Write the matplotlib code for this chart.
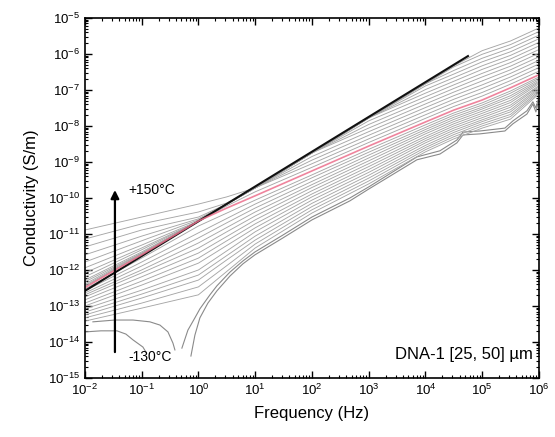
import numpy as np
import matplotlib.pyplot as plt
from matplotlib.ticker import LogLocator, NullFormatter

plt.rcParams['font.family'] = ['Liberation Sans', 'DejaVu Sans']
plt.rcParams['mathtext.fontset'] = 'custom'
plt.rcParams['mathtext.rm'] = 'Liberation Sans'
plt.rcParams['axes.unicode_minus'] = False

# ==========================================
# Data (log10 values)
# ==========================================
log_f = [-2, -1, 0, 0.5, 1, 2, 3, 4, 4.5, 5, 5.5, 6]

# +30 .. +150 C
upper_temps = [30, 40, 50, 60, 70, 80, 90, 100, 110, 120, 130, 140, 150]
upper_log_sigma = [
    [-12.46, -11.57, -10.65, -10.22, -9.83, -9.15, -8.46, -7.79, -7.46, -7.17, -6.84, -6.48],
    [-12.43, -11.56, -10.65, -10.17, -9.72, -9.05, -8.36, -7.69, -7.36, -7.07, -6.74, -6.38],
    [-12.39, -11.54, -10.65, -10.17, -9.72, -8.95, -8.26, -7.59, -7.26, -6.96, -6.64, -6.28],
    [-12.33, -11.53, -10.65, -10.17, -9.72, -8.85, -8.16, -7.49, -7.16, -6.86, -6.54, -6.18],
    [-12.28, -11.50, -10.65, -10.17, -9.72, -8.75, -8.06, -7.39, -7.06, -6.75, -6.44, -6.08],
    [-12.19, -11.44, -10.65, -10.17, -9.72, -8.75, -7.96, -7.29, -6.96, -6.64, -6.34, -5.98],
    [-12.08, -11.39, -10.65, -10.17, -9.72, -8.75, -7.86, -7.19, -6.86, -6.54, -6.24, -5.88],
    [-11.94, -11.31, -10.64, -10.17, -9.72, -8.75, -7.78, -7.09, -6.76, -6.43, -6.14, -5.78],
    [-11.78, -11.19, -10.61, -10.17, -9.72, -8.75, -7.78, -6.99, -6.66, -6.33, -6.04, -5.68],
    [-11.58, -11.06, -10.58, -10.17, -9.72, -8.75, -7.78, -6.89, -6.56, -6.22, -5.94, -5.58],
    [-11.36, -10.89, -10.53, -10.17, -9.72, -8.75, -7.78, -6.83, -6.46, -6.12, -5.84, -5.48],
    [-11.14, -10.72, -10.39, -10.14, -9.72, -8.75, -7.78, -6.83, -6.36, -6.01, -5.74, -5.38],
    [-10.89, -10.53, -10.17, -9.97, -9.72, -8.75, -7.78, -6.83, -6.33, -5.91, -5.64, -5.28],
]

# room temperature curve (pink)
room_temp = 20
room_log_sigma = [-12.49, -11.58, -10.64, -10.28, -9.94, -9.25, -8.56, -7.89, -7.56, -7.28, -6.94, -6.58]

# -110 .. +10 C
lower_temps = [-110, -100, -90, -80, -70, -60, -50, -40, -30, -20, -10, 0, 10]
lower_log_sigma = [
    [-13.42, -13.06, -12.69, -12.04, -11.39, -10.42, -9.61, -8.72, -8.36, -8.06, -7.81, -7.11],
    [-13.33, -12.92, -12.47, -11.88, -11.28, -10.33, -9.53, -8.66, -8.30, -8.00, -7.74, -7.07],
    [-13.25, -12.78, -12.28, -11.72, -11.17, -10.24, -9.45, -8.60, -8.24, -7.94, -7.68, -7.03],
    [-13.17, -12.67, -12.14, -11.60, -11.06, -10.15, -9.37, -8.54, -8.18, -7.88, -7.61, -6.99],
    [-13.08, -12.56, -12.00, -11.47, -10.94, -10.06, -9.29, -8.47, -8.12, -7.83, -7.55, -6.95],
    [-13.00, -12.42, -11.81, -11.32, -10.83, -9.97, -9.21, -8.41, -8.06, -7.77, -7.48, -6.91],
    [-12.92, -12.31, -11.67, -11.19, -10.72, -9.89, -9.13, -8.35, -8.00, -7.71, -7.42, -6.88],
    [-12.83, -12.19, -11.53, -11.07, -10.61, -9.80, -9.05, -8.29, -7.94, -7.65, -7.35, -6.83],
    [-12.75, -12.08, -11.39, -10.94, -10.50, -9.71, -8.97, -8.22, -7.88, -7.59, -7.29, -6.79],
    [-12.69, -12.00, -11.25, -10.82, -10.39, -9.63, -8.89, -8.16, -7.82, -7.53, -7.22, -6.76],
    [-12.64, -11.89, -11.11, -10.69, -10.28, -9.54, -8.81, -8.10, -7.76, -7.48, -7.16, -6.72],
    [-12.58, -11.78, -10.97, -10.57, -10.17, -9.44, -8.73, -8.04, -7.70, -7.42, -7.09, -6.68],
    [-12.53, -11.67, -10.78, -10.42, -10.06, -9.36, -8.65, -7.97, -7.64, -7.36, -7.03, -6.64],
]

# -130 C and -120 C: noisy at low frequency (gaps where the value drops out)
t130_log_f = [-2.00, -1.718, -1.436, -1.278, -1.154, -0.978, -0.925, np.nan,
              -0.132, -0.062, 0.026, 0.167, 0.326, 0.555, 0.784, 0.996, 1.489, 2.000,
              2.670, 3.004, 3.850, 4.256, 4.555, 4.661, 4.961, 5.401, 5.542, 5.789,
              5.894, 5.947, 6.0]
t130_log_sigma = [-13.72, -13.69, -13.69, -13.78, -13.94, -14.14, -14.28, np.nan,
                  -14.39, -13.81, -13.33, -12.92, -12.58, -12.17, -11.83, -11.58, -11.11, -10.61,
                  -10.08, -9.75, -8.94, -8.78, -8.47, -8.25, -8.22, -8.14, -7.94, -7.67,
                  -7.39, -7.61, -7.28]

t120_log_f = [-1.859, -1.471, -1.154, -0.855, -0.678, -0.537, -0.449, -0.414, np.nan,
              -0.291, -0.185, -0.062, 0.026, 0.203, 0.326, 0.555, 0.784, 0.996, 1.489, 2.0,
              2.670, 3.004, 3.850, 4.256, 4.555, 4.661, 4.961, 5.401, 5.542, 5.789,
              5.894, 5.947, 6.0]
t120_log_sigma = [-13.44, -13.39, -13.39, -13.44, -13.53, -13.72, -14.03, -14.22, np.nan,
                  -14.17, -13.67, -13.33, -13.08, -12.69, -12.44, -12.06, -11.75, -11.50, -11.03, -10.53,
                  -10.00, -9.69, -8.86, -8.69, -8.39, -8.17, -8.14, -8.06, -7.86, -7.58,
                  -7.33, -7.50, -7.19]

# black reference line
ref_log_f = [-2, 4.75]
ref_log_sigma = [-12.58, -6.06]

# ==========================================
# Plot
# ==========================================
fig = plt.figure(figsize=(5.55, 4.37), dpi=100)
ax = fig.add_axes([0.153, 0.135, 0.818, 0.824])

grey = '#a6a6a6'
f_grid = 10.0 ** np.array(log_f)

ax.plot(10.0 ** np.array(t130_log_f), 10.0 ** np.array(t130_log_sigma), color='#8a8a8a', lw=0.8)
ax.plot(10.0 ** np.array(t120_log_f), 10.0 ** np.array(t120_log_sigma), color='#8a8a8a', lw=0.8)
for row in lower_log_sigma:
    ax.plot(f_grid, 10.0 ** np.array(row), color=grey, lw=0.65)
for row in upper_log_sigma:
    ax.plot(f_grid, 10.0 ** np.array(row), color=grey, lw=0.65)

ax.plot(10.0 ** np.array(ref_log_f), 10.0 ** np.array(ref_log_sigma), color='#111111', lw=1.5)
ax.plot(f_grid, 10.0 ** np.array(room_log_sigma), color='#ec6f8c', lw=1.2, alpha=0.85)

ax.set_xscale('log')
ax.set_yscale('log')
ax.set_xlim(1e-2, 1e6)
ax.set_ylim(1e-15, 1e-5)

ax.xaxis.set_major_locator(LogLocator(base=10, numticks=20))
ax.yaxis.set_major_locator(LogLocator(base=10, numticks=20))
ax.xaxis.set_minor_locator(LogLocator(base=10, subs=np.arange(2, 10), numticks=100))
ax.yaxis.set_minor_locator(LogLocator(base=10, subs=np.arange(2, 10), numticks=100))
ax.xaxis.set_minor_formatter(NullFormatter())
ax.yaxis.set_minor_formatter(NullFormatter())
ax.tick_params(which='both', direction='in', top=True, right=True, labelsize=9.5)
ax.tick_params(which='major', length=5, width=1)
ax.tick_params(which='minor', length=2.5, width=0.8)
for s in ax.spines.values():
    s.set_linewidth(1.2)

ax.set_xlabel('Frequency (Hz)', fontsize=12, labelpad=6)
ax.set_ylabel('Conductivity (S/m)', fontsize=12, labelpad=6)

# temperature arrow
ax.annotate('', xy=(10 ** -1.471, 10 ** -9.78), xytext=(10 ** -1.471, 10 ** -14.28),
            arrowprops=dict(arrowstyle='-|>', color='black', lw=1.6, mutation_scale=12,
                            shrinkA=0, shrinkB=0))
ax.text(10 ** -1.24, 10 ** -9.78, '+150°C', fontsize=10, va='center', ha='left')
ax.text(10 ** -1.24, 10 ** -14.42, '-130°C', fontsize=10, va='center', ha='left')

ax.text(0.987, 0.064, 'DNA-1 [25, 50] µm', transform=ax.transAxes, fontsize=12,
        ha='right', va='center')

fig.savefig('out.png', dpi=100)
